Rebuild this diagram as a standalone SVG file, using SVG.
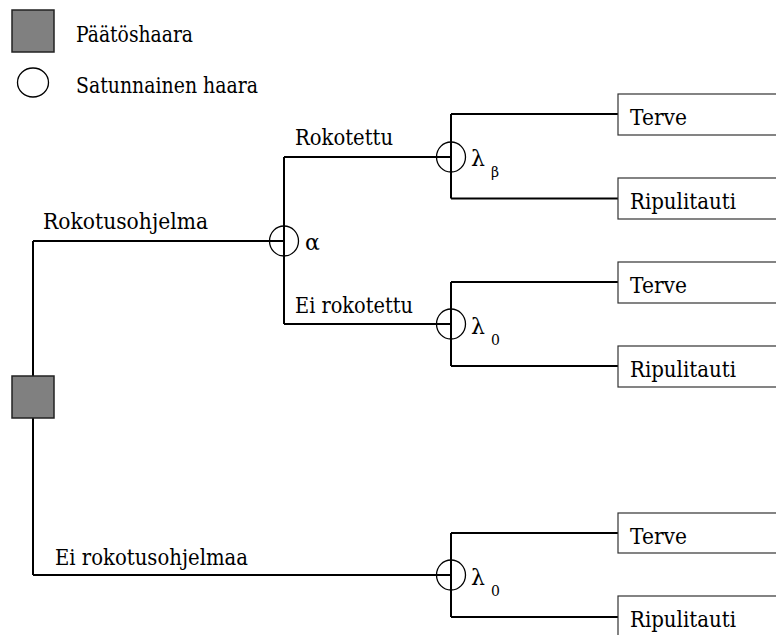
<svg xmlns="http://www.w3.org/2000/svg" width="776" height="635" viewBox="0 0 776 635">
  <style>
    text { font-family: 'DejaVu Serif', 'Liberation Serif', 'Noto Serif', serif; fill: #000; }
    .txt { font-size: 22px; }
    .sub { font-size: 14px; }
    .wire { fill: none; stroke: #000; stroke-width: 2; }
    .chance { fill: none; stroke: #000; stroke-width: 1.3; }
    .decision { fill: #808080; stroke: #222; stroke-width: 1.5; }
    .outcome { fill: #fff; stroke: #333; stroke-width: 1.2; }
  </style>

  <!-- legend -->
  <g id="legend">
    <rect class="decision" x="12" y="10" width="42" height="42"/>
    <text class="txt" x="76" y="42" textLength="117" lengthAdjust="spacingAndGlyphs">Päätöshaara</text>
    <ellipse class="chance" cx="33" cy="82.5" rx="15.5" ry="14.5"/>
    <text class="txt" x="76" y="93" textLength="182" lengthAdjust="spacingAndGlyphs">Satunnainen haara</text>
  </g>

  <!-- branches -->
  <g id="connectors">
    <path class="wire" d="M33 241 V575"/>
    <path class="wire" d="M33 241 H284"/>
    <path class="wire" d="M284 157 V324"/>
    <path class="wire" d="M284 157 H451"/>
    <path class="wire" d="M284 324 H451"/>
    <path class="wire" d="M451 114 V198.5"/>
    <path class="wire" d="M451 114 H618"/>
    <path class="wire" d="M451 198.5 H618"/>
    <path class="wire" d="M451 282 V366"/>
    <path class="wire" d="M451 282 H618"/>
    <path class="wire" d="M451 366 H618"/>
    <path class="wire" d="M33 575 H451"/>
    <path class="wire" d="M451 533 V617"/>
    <path class="wire" d="M451 533 H618"/>
    <path class="wire" d="M451 617 H618"/>
  </g>

  <!-- branch labels -->
  <g id="branch-labels">
    <text class="txt" x="43" y="229" textLength="165" lengthAdjust="spacingAndGlyphs">Rokotusohjelma</text>
    <text class="txt" x="295" y="145" textLength="98" lengthAdjust="spacingAndGlyphs">Rokotettu</text>
    <text class="txt" x="295" y="313" textLength="118" lengthAdjust="spacingAndGlyphs">Ei rokotettu</text>
    <text class="txt" x="55" y="565" textLength="193" lengthAdjust="spacingAndGlyphs">Ei rokotusohjelmaa</text>
  </g>

  <!-- decision node -->
  <g id="decision">
    <rect class="decision" x="12" y="376" width="42" height="42"/>
  </g>

  <!-- chance nodes -->
  <g id="chance-alpha">
    <ellipse class="chance" cx="284" cy="241" rx="14.5" ry="15"/>
    <text class="txt" x="305" y="250">α</text>
  </g>
  <g id="chance-beta">
    <ellipse class="chance" cx="451" cy="157" rx="14.5" ry="15"/>
    <text class="txt" x="471" y="166">λ</text>
    <text class="sub" x="491" y="177">β</text>
  </g>
  <g id="chance-zero-a">
    <ellipse class="chance" cx="451" cy="324" rx="14.5" ry="15"/>
    <text class="txt" x="471" y="334">λ</text>
    <text class="sub" x="491" y="345">0</text>
  </g>
  <g id="chance-zero-b">
    <ellipse class="chance" cx="451" cy="575" rx="14.5" ry="15"/>
    <text class="txt" x="471" y="585">λ</text>
    <text class="sub" x="491" y="596">0</text>
  </g>

  <!-- outcomes -->
  <g id="outcome-1">
    <rect class="outcome" x="618" y="94" width="170" height="41"/>
    <text class="txt" x="630" y="125" textLength="57" lengthAdjust="spacingAndGlyphs">Terve</text>
  </g>
  <g id="outcome-2">
    <rect class="outcome" x="618" y="178" width="170" height="41"/>
    <text class="txt" x="630" y="209" textLength="106" lengthAdjust="spacingAndGlyphs">Ripulitauti</text>
  </g>
  <g id="outcome-3">
    <rect class="outcome" x="618" y="262" width="170" height="41"/>
    <text class="txt" x="630" y="293" textLength="57" lengthAdjust="spacingAndGlyphs">Terve</text>
  </g>
  <g id="outcome-4">
    <rect class="outcome" x="618" y="346" width="170" height="41"/>
    <text class="txt" x="630" y="377" textLength="106" lengthAdjust="spacingAndGlyphs">Ripulitauti</text>
  </g>
  <g id="outcome-5">
    <rect class="outcome" x="618" y="513" width="170" height="40"/>
    <text class="txt" x="630" y="544" textLength="57" lengthAdjust="spacingAndGlyphs">Terve</text>
  </g>
  <g id="outcome-6">
    <rect class="outcome" x="618" y="596" width="170" height="41"/>
    <text class="txt" x="630" y="627" textLength="106" lengthAdjust="spacingAndGlyphs">Ripulitauti</text>
  </g>
</svg>
